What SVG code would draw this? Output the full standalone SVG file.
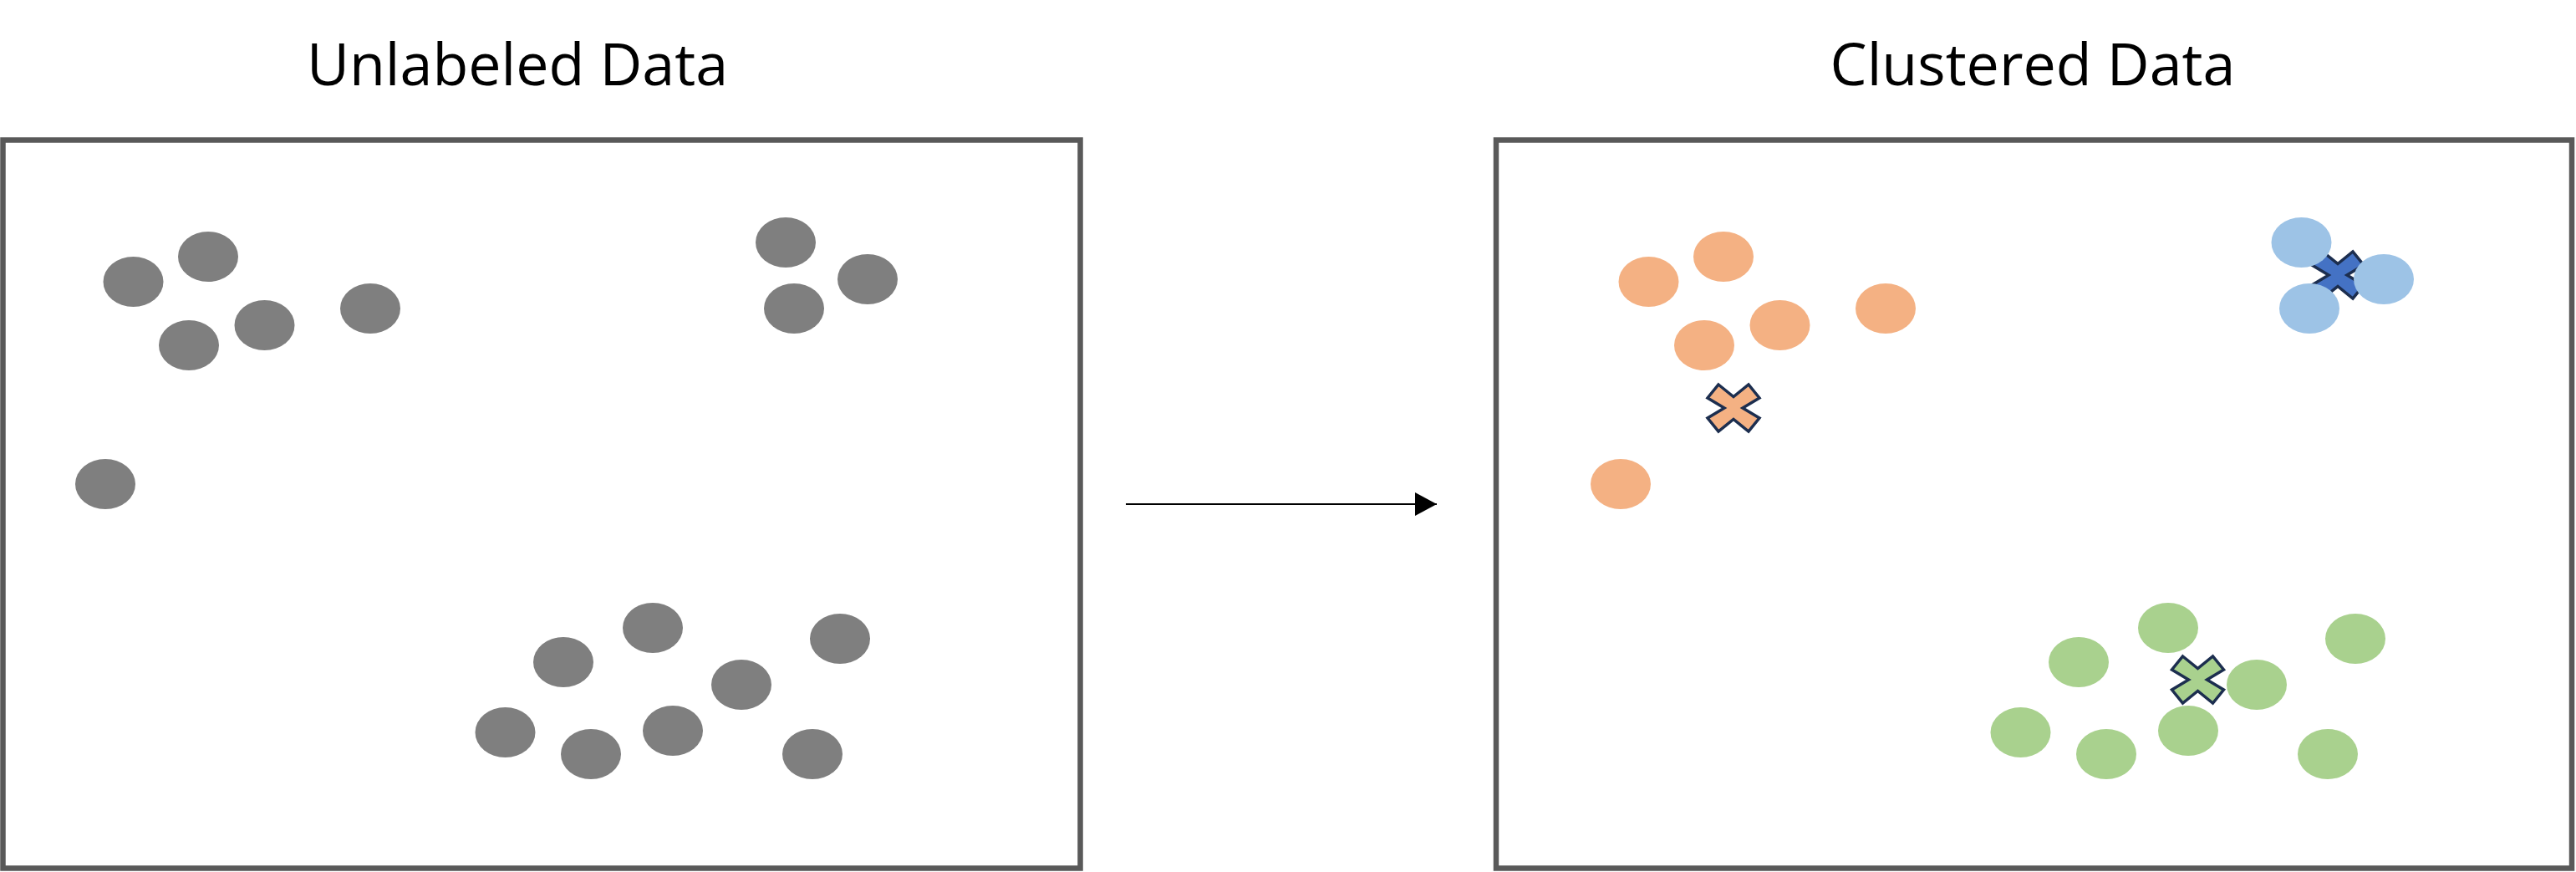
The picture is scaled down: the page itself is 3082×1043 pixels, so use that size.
<svg xmlns="http://www.w3.org/2000/svg" width="3082" height="1043" viewBox="0 0 3082 1043">
<style>
.title{font-family:"Open Sans","Liberation Sans",sans-serif;font-size:70px;fill:#000;text-anchor:middle}
.box{fill:#fff;stroke:#595959;stroke-width:6.5}
.g{fill:#7f7f7f}
.o{fill:#f4b183}
.b{fill:#9dc3e6}
.gr{fill:#a9d18e}
.x{stroke:#1c2e4f;stroke-width:3.5;stroke-linejoin:miter}
</style>
<defs>
<polygon id="cross" points="-18,-28 0,-13.5 18,-28 31,-12 11,0 31,12 18,28 0,13.5 -18,28 -31,12 -11,0 -31,-12"/>
<marker id="arrow" markerUnits="userSpaceOnUse" markerWidth="26" markerHeight="28" refX="26" refY="14" orient="auto">
<polygon points="0,0 26,14 0,28" fill="#000"/>
</marker>
</defs>
<rect width="3082" height="1043" fill="#fff"/>
<g id="left-panel">
<text class="title" x="619" y="102">Unlabeled Data</text>
<rect class="box" x="3.5" y="167.5" width="1289" height="871"/>
<g id="gray-points">
<ellipse class="g" cx="159.5" cy="337" rx="36" ry="30"/>
<ellipse class="g" cx="249" cy="307" rx="36" ry="30"/>
<ellipse class="g" cx="316.5" cy="389" rx="36" ry="30"/>
<ellipse class="g" cx="443" cy="369" rx="36" ry="30"/>
<ellipse class="g" cx="226" cy="413" rx="36" ry="30"/>
<ellipse class="g" cx="940" cy="290" rx="36" ry="30"/>
<ellipse class="g" cx="1038" cy="334" rx="36" ry="30"/>
<ellipse class="g" cx="950" cy="369" rx="36" ry="30"/>
<ellipse class="g" cx="126" cy="579" rx="36" ry="30"/>
<ellipse class="g" cx="781" cy="751" rx="36" ry="30"/>
<ellipse class="g" cx="674" cy="792" rx="36" ry="30"/>
<ellipse class="g" cx="887" cy="819" rx="36" ry="30"/>
<ellipse class="g" cx="1005" cy="764" rx="36" ry="30"/>
<ellipse class="g" cx="604.5" cy="876" rx="36" ry="30"/>
<ellipse class="g" cx="707" cy="902" rx="36" ry="30"/>
<ellipse class="g" cx="805" cy="874" rx="36" ry="30"/>
<ellipse class="g" cx="972" cy="902" rx="36" ry="30"/>
</g>
</g>
<g id="connectors">
<line x1="1347" y1="603" x2="1719" y2="603" stroke="#000" stroke-width="2.2" marker-end="url(#arrow)"/>
</g>
<g id="right-panel">
<text class="title" x="2432" y="102">Clustered Data</text>
<rect class="box" x="1790" y="167.5" width="1287" height="871"/>
<g id="orange-cluster">
<ellipse class="o" cx="1972.5" cy="337" rx="36" ry="30"/>
<ellipse class="o" cx="2062" cy="307" rx="36" ry="30"/>
<ellipse class="o" cx="2129.5" cy="389" rx="36" ry="30"/>
<ellipse class="o" cx="2256" cy="369" rx="36" ry="30"/>
<ellipse class="o" cx="2039" cy="413" rx="36" ry="30"/>
<ellipse class="o" cx="1939" cy="579" rx="36" ry="30"/>
<use href="#cross" class="x" fill="#f4b183" transform="translate(2074,488)"/>
</g>
<g id="blue-cluster">
<use href="#cross" class="x" fill="#4472c4" transform="translate(2797,329)"/>
<ellipse class="b" cx="2753.5" cy="290" rx="36" ry="30"/>
<ellipse class="b" cx="2852" cy="334" rx="36" ry="30"/>
<ellipse class="b" cx="2763" cy="369" rx="36" ry="30"/>
</g>
<g id="green-cluster">
<ellipse class="gr" cx="2594" cy="751" rx="36" ry="30"/>
<ellipse class="gr" cx="2487" cy="792" rx="36" ry="30"/>
<ellipse class="gr" cx="2700" cy="819" rx="36" ry="30"/>
<ellipse class="gr" cx="2818" cy="764" rx="36" ry="30"/>
<ellipse class="gr" cx="2417.5" cy="876" rx="36" ry="30"/>
<ellipse class="gr" cx="2520" cy="902" rx="36" ry="30"/>
<ellipse class="gr" cx="2618" cy="874" rx="36" ry="30"/>
<ellipse class="gr" cx="2785" cy="902" rx="36" ry="30"/>
<use href="#cross" class="x" fill="#a9d18e" transform="translate(2629.5,813)"/>
</g>
</g>
</svg>
